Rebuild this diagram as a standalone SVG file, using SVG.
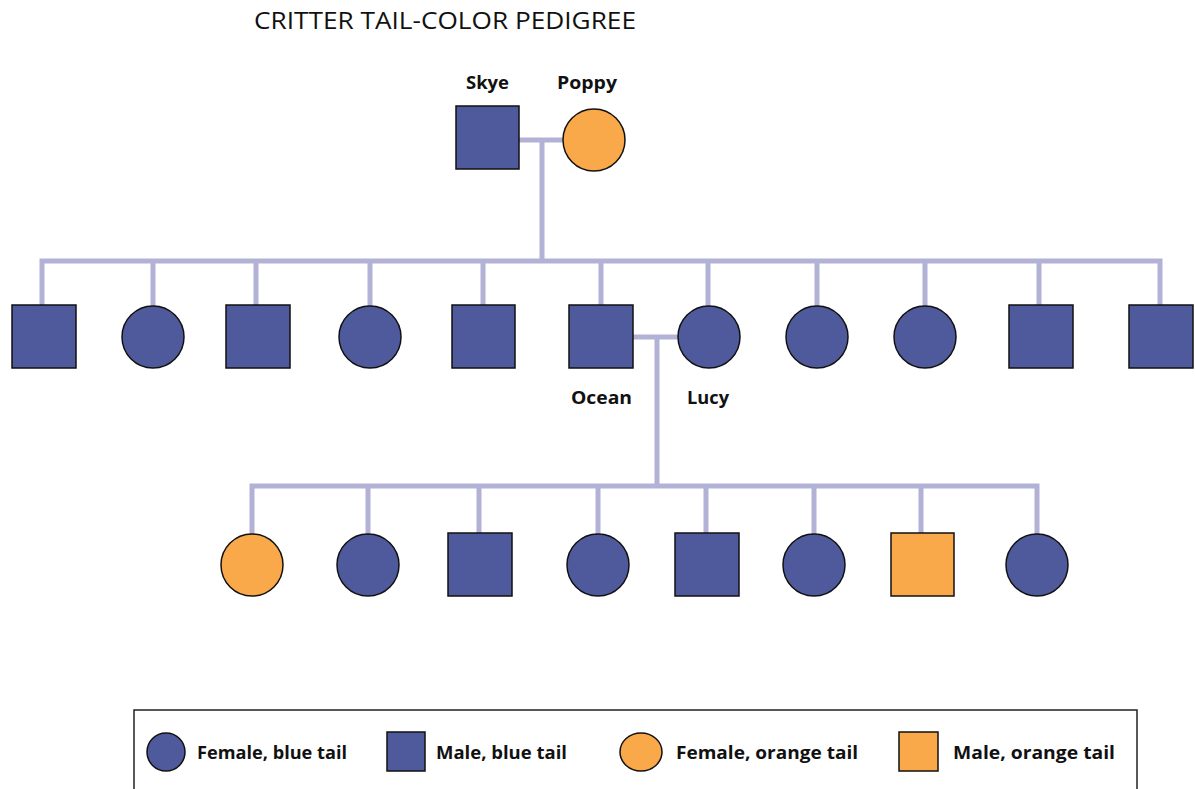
<svg xmlns="http://www.w3.org/2000/svg" width="1195" height="789" viewBox="0 0 1195 789">
<style>
.b{fill:#4f5a9c;stroke:#111;stroke-width:1.5}
.o{fill:#f9a84a;stroke:#111;stroke-width:1.5}
.ln{fill:none;stroke:#b2b2d6;stroke-width:5}
.lbl{font-family:"Open Sans",Lato,sans-serif;font-weight:bold;font-size:17.5px;fill:#111}
.title{font-family:"Open Sans",Lato,sans-serif;font-size:23px;fill:#111}
</style>
<rect width="1195" height="789" fill="#fff"/>
<text class="title" x="254" y="29" textLength="382" lengthAdjust="spacingAndGlyphs">CRITTER TAIL-COLOR PEDIGREE</text>
<g id="connectors">
<path class="ln" d="M519,140H563M542,140V261M42,306V261H1160V306M153,261V306M256,261V306M370,261V306M483,261V306M601,261V306M708,261V306M817,261V306M925,261V306M1039,261V306"/>
<path class="ln" d="M633,337H678M657,337V486M252,534V486H1037V534M368,486V534M479,486V534M598,486V534M706,486V534M814,486V534M921,486V534"/>
</g>
<g id="skye"><rect class="b" x="456" y="106" width="63" height="63"/><text class="lbl" x="487.5" y="89" text-anchor="middle" textLength="43" lengthAdjust="spacingAndGlyphs">Skye</text></g>
<g id="poppy"><circle class="o" cx="594" cy="140" r="31"/><text class="lbl" x="587" y="89" text-anchor="middle" textLength="60" lengthAdjust="spacingAndGlyphs">Poppy</text></g>
<g id="g2-1"><rect class="b" x="12" y="305" width="64" height="63"/></g>
<g id="g2-2"><circle class="b" cx="153" cy="337" r="31"/></g>
<g id="g2-3"><rect class="b" x="226" y="305" width="64" height="63"/></g>
<g id="g2-4"><circle class="b" cx="370" cy="337" r="31"/></g>
<g id="g2-5"><rect class="b" x="452" y="305" width="63" height="63"/></g>
<g id="ocean"><rect class="b" x="569" y="305" width="64" height="63"/><text class="lbl" x="601.5" y="404" text-anchor="middle" textLength="61" lengthAdjust="spacingAndGlyphs">Ocean</text></g>
<g id="lucy"><circle class="b" cx="709" cy="337" r="31"/><text class="lbl" x="708" y="404" text-anchor="middle" textLength="42" lengthAdjust="spacingAndGlyphs">Lucy</text></g>
<g id="g2-8"><circle class="b" cx="817" cy="337" r="31"/></g>
<g id="g2-9"><circle class="b" cx="925" cy="337" r="31"/></g>
<g id="g2-10"><rect class="b" x="1009" y="305" width="64" height="63"/></g>
<g id="g2-11"><rect class="b" x="1129" y="305" width="64" height="63"/></g>
<g id="g3-1"><circle class="o" cx="252" cy="565" r="31"/></g>
<g id="g3-2"><circle class="b" cx="368" cy="565" r="31"/></g>
<g id="g3-3"><rect class="b" x="448" y="533" width="64" height="63"/></g>
<g id="g3-4"><circle class="b" cx="598" cy="565" r="31"/></g>
<g id="g3-5"><rect class="b" x="675" y="533" width="64" height="63"/></g>
<g id="g3-6"><circle class="b" cx="814" cy="565" r="31"/></g>
<g id="g3-7"><rect class="o" x="891" y="533" width="63" height="63"/></g>
<g id="g3-8"><circle class="b" cx="1037" cy="565" r="31"/></g>
<g id="legend">
<rect x="134" y="710" width="1003" height="90" fill="#fff" stroke="#222" stroke-width="1.5"/>
<circle class="b" cx="166" cy="752" r="19"/><text class="lbl" x="197" y="759" textLength="150" lengthAdjust="spacingAndGlyphs">Female, blue tail</text>
<rect class="b" x="387" y="732" width="38" height="39"/><text class="lbl" x="436" y="759" textLength="131" lengthAdjust="spacingAndGlyphs">Male, blue tail</text>
<ellipse class="o" cx="641" cy="752" rx="21" ry="19"/><text class="lbl" x="676" y="759" textLength="182" lengthAdjust="spacingAndGlyphs">Female, orange tail</text>
<rect class="o" x="899" y="732" width="39" height="39"/><text class="lbl" x="953" y="759" textLength="162" lengthAdjust="spacingAndGlyphs">Male, orange tail</text>
</g>
</svg>
